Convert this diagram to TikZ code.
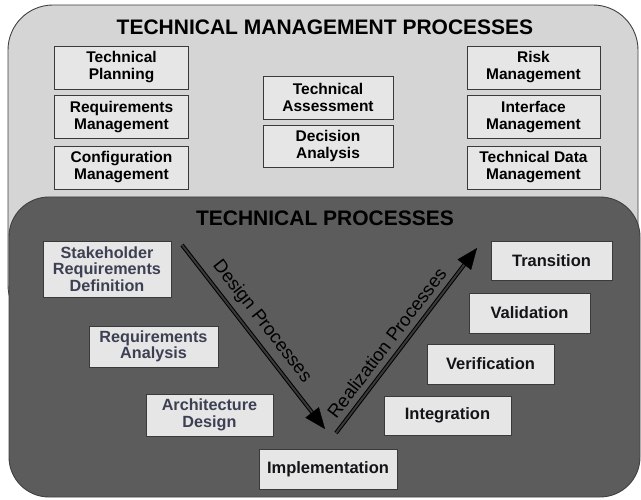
\documentclass[tikz,border=0pt]{standalone}
\usepackage{fontspec}
\setmainfont{Liberation Sans}
\usetikzlibrary{arrows.meta,calc}
\definecolor{outerfill}{HTML}{D5D5D5}
\definecolor{innerfill}{HTML}{5C5C5C}
\definecolor{boxfill}{HTML}{E6E6E6}
\definecolor{boxline}{HTML}{3A3A3A}
\definecolor{lefttext}{HTML}{3C4052}
\definecolor{righttext}{HTML}{141418}
\begin{document}
\begin{tikzpicture}[x=1pt,y=-1pt,
  container/.style={draw=black!75, line width=0.9pt, rounded corners=#1},
  mbox/.style={draw=boxline, line width=0.9pt, fill=boxfill, align=center, inner sep=0pt,
    font=\bfseries\fontsize{15.5}{17}\selectfont, text=black},
  lbox/.style={mbox, font=\bfseries\fontsize{16.2}{16.6}\selectfont, text=lefttext},
  rbox/.style={mbox, font=\bfseries\fontsize{16.5}{17}\selectfont, text=righttext},
  ttl/.style={font=\bfseries\fontsize{21}{24}\selectfont, text=black, inner sep=0pt},
  stem/.style={draw=black, line width=1pt, double=black!78, double distance=2pt, shorten >=16pt},
  head/.style={-{Triangle[length=21pt,width=17pt]}, line width=0.4pt, fill=black},
  plabel/.style={font=\fontsize{18.5}{20}\selectfont, text=black, inner sep=0pt, sloped, above=7pt}
]
\useasboundingbox (0,0) rectangle (641,500);
% containers
\path[container=45pt, fill=outerfill] (8,5) rectangle (638,330);
\path[container=40pt, fill=innerfill] (9,197) rectangle (640,497);
% titles
\node[ttl] (ttl1) at (325,27) {TECHNICAL MANAGEMENT PROCESSES};
\node[ttl] (ttl2) at (325,218) {TECHNICAL PROCESSES};
% management boxes
\node[mbox, minimum width=134pt, minimum height=43pt] (tp)  at (121.5,67.5) {Technical\\Planning};
\node[mbox, minimum width=134pt, minimum height=43pt] (rqm) at (121.5,117) {Requirements\\Management};
\node[mbox, minimum width=134pt, minimum height=43pt] (cfm) at (121.5,167.5) {Configuration\\Management};
\node[mbox, minimum width=130pt, minimum height=43pt] (ta)  at (328,97.5) {Technical\\Assessment};
\node[mbox, minimum width=130pt, minimum height=42pt] (da)  at (328,146) {Decision\\Analysis};
\node[mbox, minimum width=133pt, minimum height=43pt] (rsk) at (533.5,67.5) {Risk\\Management};
\node[mbox, minimum width=133pt, minimum height=43pt] (ifm) at (533.5,117) {Interface\\Management};
\node[mbox, minimum width=133pt, minimum height=43pt] (tdm) at (533.5,167.5) {Technical Data\\Management};
% technical process boxes
\node[lbox, minimum width=128pt, minimum height=56pt] (srd) at (107,269) {Stakeholder\\Requirements\\Definition};
\node[lbox, minimum width=129pt, minimum height=41pt] (ra)  at (153.5,346.5) {Requirements\\Analysis};
\node[lbox, minimum width=127pt, minimum height=42pt] (ad)  at (209.5,415) {Architecture\\Design};
\node[rbox, minimum width=138pt, minimum height=40pt] (impl) at (328,469) {Implementation};
\node[rbox, minimum width=127pt, minimum height=39pt] (integ) at (447.5,415.5) {Integration};
\node[rbox, minimum width=127pt, minimum height=40pt] (verif) at (490.5,364) {Verification};
\node[rbox, minimum width=121pt, minimum height=40pt] (valid) at (529.5,313) {Validation};
\node[rbox, minimum width=121pt, minimum height=39pt] (trans) at (551.5,260.5) {Transition};
% process arrows
\coordinate (ds) at (182,245);
\coordinate (de) at (325,429);
\coordinate (rs) at (336,433);
\coordinate (re) at (477,248);
\draw[stem] (ds) -- node[plabel, pos=0.47] (dl) {Design Processes} (de);
\draw[head] ($(de)!21pt!(ds)$) -- (de);
\draw[stem] (rs) -- node[plabel, pos=0.44] (rl) {Realization Processes} (re);
\draw[head] ($(re)!21pt!(rs)$) -- (re);
\end{tikzpicture}
\end{document}
